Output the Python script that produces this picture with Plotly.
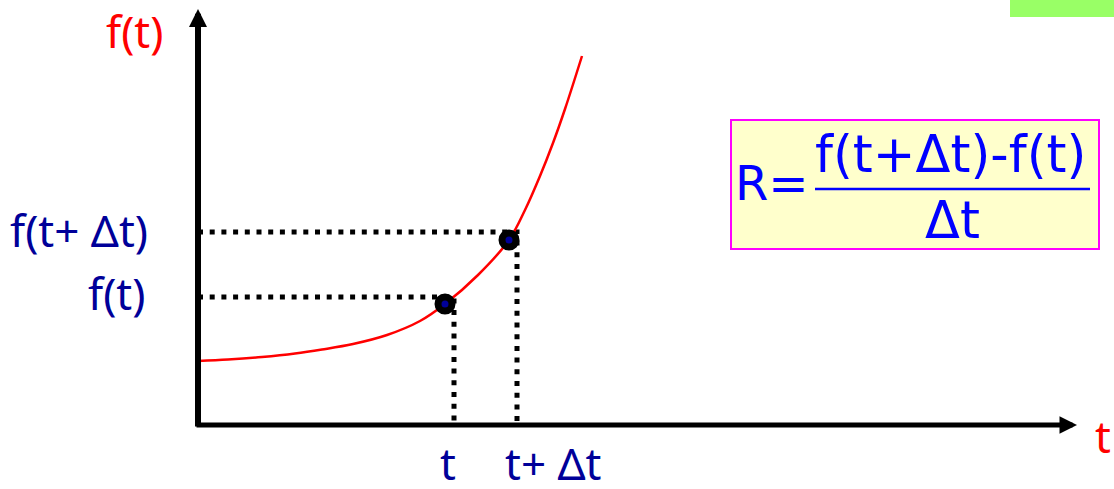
import plotly.graph_objects as go

# ---- data (t, f) in chart units: origin at the axes corner ----
curve_t = [0, 30, 64, 97, 124, 155, 189, 222, 247, 280, 311, 327, 342, 355, 367, 384]
curve_f = [64, 65.5, 68, 71.5, 75.5, 81, 90, 104, 121, 150, 185, 215, 249, 282, 316, 369]

point_t = [247, 311]
point_f = [121, 185]

guide_t = [256, 319]
guide_f = [128, 193]

f_labels = ["f(t)", "f(t+ Δt)"]
t_labels = ["t", "t+ Δt"]
axis_titles = ["f(t)", "t"]
formula_parts = ["R=", "f(t+Δt)-f(t)", "Δt"]

# ---- layout constants ----
X_RANGE = [-198, 916]
Y_RANGE = [-64, 425]
NAVY = "#000099"
BLUE = "#0000FF"
RED = "#FF0000"
LABEL_FONT = "Noto Sans"
FORMULA_FONT = "DejaVu Sans"

fig = go.Figure()

# dotted guides (L shapes)
for gt, gf in zip(guide_t, guide_f):
    fig.add_trace(go.Scatter(
        x=[0, gt, gt], y=[gf, gf, 0], mode="lines",
        line=dict(color="black", width=5, dash="5px,6.7px"),
        hoverinfo="skip", showlegend=False))

# curve
fig.add_trace(go.Scatter(
    x=curve_t, y=curve_f, mode="lines",
    line=dict(color=RED, width=2.5, shape="spline", smoothing=1.0),
    hoverinfo="skip", showlegend=False))

# points
fig.add_trace(go.Scatter(
    x=point_t, y=point_f, mode="markers",
    marker=dict(size=14, color=NAVY, line=dict(color="black", width=7)),
    hoverinfo="skip", showlegend=False))

annotations = []
# axes with arrows
annotations.append(dict(x=0, y=416, ax=0, ay=-3, xref="x", yref="y", axref="x", ayref="y",
                        showarrow=True, arrowhead=2, arrowsize=0.6, arrowwidth=6,
                        arrowcolor="black", text="", standoff=0, startstandoff=0))
annotations.append(dict(x=879, y=0, ax=-3, ay=0, xref="x", yref="y", axref="x", ayref="y",
                        showarrow=True, arrowhead=2, arrowsize=0.7, arrowwidth=5,
                        arrowcolor="black", text="", standoff=0, startstandoff=0))

lab = dict(showarrow=False, xref="x", yref="y")
# axis titles (red)
annotations.append(dict(lab, text=axis_titles[0], x=-64, y=394, xanchor="center", yanchor="middle",
                        font=dict(family=LABEL_FONT, size=44, color=RED)))
annotations.append(dict(lab, text=axis_titles[1], x=905, y=-11, xanchor="center", yanchor="middle",
                        font=dict(family=LABEL_FONT, size=44, color=RED)))
# f labels
annotations.append(dict(lab, text=f_labels[0], x=-51, y=132, xanchor="right", yanchor="middle",
                        font=dict(family=LABEL_FONT, size=44, color=NAVY)))
annotations.append(dict(lab, text=f_labels[1], x=-48, y=195, xanchor="right", yanchor="middle",
                        font=dict(family=LABEL_FONT, size=44, color=NAVY)))
# t labels
annotations.append(dict(lab, text=t_labels[0], x=250, y=-38, xanchor="center", yanchor="middle",
                        font=dict(family=LABEL_FONT, size=44, color=NAVY)))
annotations.append(dict(lab, text=t_labels[1], x=355, y=-38, xanchor="center", yanchor="middle",
                        font=dict(family=LABEL_FONT, size=44, color=NAVY)))
# formula
annotations.append(dict(lab, text=formula_parts[0], x=535, y=242, xanchor="left", yanchor="middle",
                        font=dict(family=FORMULA_FONT, size=48, color=BLUE)))
annotations.append(dict(lab, text=formula_parts[1], x=753, y=271, xanchor="center", yanchor="middle",
                        font=dict(family=FORMULA_FONT, size=51, color=BLUE)))
annotations.append(dict(lab, text=formula_parts[2], x=754, y=205, xanchor="center", yanchor="middle",
                        font=dict(family=FORMULA_FONT, size=51, color=BLUE)))

shapes = [
    # formula box
    dict(type="rect", xref="x", yref="y", x0=533, x1=901, y0=176, y1=305,
         fillcolor="#FFFFCC", line=dict(color="#FF00FF", width=2), layer="below"),
    # fraction bar
    dict(type="line", xref="x", yref="y", x0=617, x1=892, y0=236, y1=236,
         line=dict(color=BLUE, width=2.5)),
    # green tab top-right
    dict(type="rect", xref="x", yref="y", x0=812, x1=916, y0=408, y1=425,
         fillcolor="#99FF66", line=dict(width=0), layer="below"),
]

fig.update_layout(
    width=1114, height=489,
    margin=dict(l=0, r=0, t=0, b=0),
    paper_bgcolor="white", plot_bgcolor="white",
    xaxis=dict(range=X_RANGE, visible=False, fixedrange=True),
    yaxis=dict(range=Y_RANGE, visible=False, fixedrange=True),
    annotations=annotations, shapes=shapes, showlegend=False,
)

fig.write_html("out.html", config={"displayModeBar": False},
               post_script="document.body.style.margin='0';document.body.style.overflow='hidden';")
